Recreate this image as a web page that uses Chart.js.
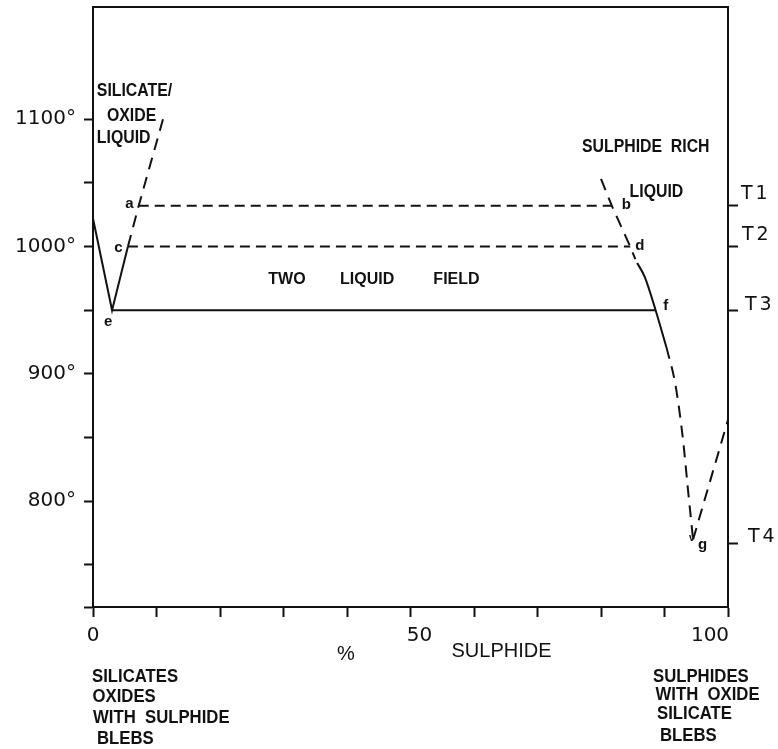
<!DOCTYPE html>
<html>
<head>
<meta charset="utf-8">
<script src="https://cdn.jsdelivr.net/npm/chart.js@4/dist/chart.umd.min.js"></script>
<style>
  html, body { margin: 0; padding: 0; background: #fff; }
  #wrap { width: 778px; height: 749px; position: relative; }
</style>
</head>
<body>
<div id="wrap"><canvas id="chart" width="778" height="749"></canvas></div>
<script>
// Phase diagram: temperature (°C) against % sulphide in a silicate/oxide - sulphide melt.

// Axis ranges and ticks
const X_MIN = 0, X_MAX = 100;
const Y_MIN = 717, Y_MAX = 1188;
const xTickValues = [0, 10, 20, 30, 40, 50, 60, 70, 80, 90, 100];
const xTickLabels = ['0', '50', '100'];
const yTickValues = [Y_MIN, 750, 800, 850, 900, 950, 1000, 1050, 1100];
const yLabelledTicks = [800, 900, 1000, 1100];
const tempLevels = [1032, 1000, 950, 767];          // T1 .. T4
const tempLevelNames = ['T1', 'T2', 'T3', 'T4'];

// Silicate/oxide side: solid boundary down to eutectic e, up to c
const silicateSolidX = [0, 3, 5.5];
const silicateSolidT = [1022, 950, 1000];
// Silicate liquidus (dashed) through c and a
const silicateLiquidusX = [5.5, 7.2, 11.2];
const silicateLiquidusT = [1000, 1032, 1103];
// Tie lines a-b and c-d (dashed)
const tieABX = [7.2, 81.7];
const tieABT = [1032, 1032];
const tieCDX = [5.5, 84.6];
const tieCDT = [1000, 1000];
// Eutectic line e-f (solid)
const eutecticX = [3, 88.6];
const eutecticT = [950, 950];
// Sulphide liquidus: dashed above d, solid through f, dashed down to g
const sulphideUpperX = [80, 81.7, 84.6, 85.4];
const sulphideUpperT = [1053, 1032, 1000, 990];
const sulphideSolidX = [85.7, 86.9, 88.6, 90.3];
const sulphideSolidT = [987, 976, 950, 921];
const sulphideLowerX = [90.3, 91.7, 92.9, 93.7, 94.5];
const sulphideLowerT = [921, 892, 849, 809, 770];
// Sulphide side branch rising from g to the 100 % axis
const sulphideRightX = [94.5, 100];
const sulphideRightT = [770, 864];

const INK = '#111';
const pts = (xs, ts) => xs.map((x, i) => ({ x, y: ts[i] }));

function curve(xs, ts, dash, smooth) {
  return {
    data: pts(xs, ts),
    borderColor: INK,
    borderWidth: 2,
    borderDash: dash || [],
    pointRadius: 0,
    fill: false,
    tension: smooth ? 0.4 : 0,
    cubicInterpolationMode: smooth ? 'monotone' : 'default',
    borderCapStyle: 'butt'
  };
}

// Lettering: condensed bold capitals are drawn with a horizontal squeeze
const CAPS = 'bold 18px "Liberation Sans"';
const SMALL = 'bold 15px "Liberation Sans"';

// Text placed in data coordinates (x in %, y in °C)
const fieldLabels = [
  { t: 'SILICATE/', x: 0.6, y: 1122, f: CAPS, a: 'left', sx: 0.88 },
  { t: 'OXIDE', x: 2.2, y: 1102.5, f: CAPS, a: 'left', sx: 0.88 },
  { t: 'LIQUID', x: 0.6, y: 1085, f: CAPS, a: 'left', sx: 0.88 },
  { t: 'SULPHIDE  RICH', x: 77.0, y: 1078, f: CAPS, a: 'left', sx: 0.88 },
  { t: 'LIQUID', x: 84.5, y: 1042.5, f: CAPS, a: 'left', sx: 0.88 },
  { t: 'TWO', x: 27.6, y: 974, f: 'bold 16px "Liberation Sans"', a: 'left', sx: 1 },
  { t: 'LIQUID', x: 38.9, y: 974, f: 'bold 16px "Liberation Sans"', a: 'left', sx: 1 },
  { t: 'FIELD', x: 53.6, y: 974, f: 'bold 16px "Liberation Sans"', a: 'left', sx: 1 },
  { t: 'a', x: 5.75, y: 1033.5, f: SMALL, a: 'center', sx: 1 },
  { t: 'c', x: 4.0, y: 998.6, f: SMALL, a: 'center', sx: 1 },
  { t: 'e', x: 2.4, y: 940.6, f: SMALL, a: 'center', sx: 1 },
  { t: 'b', x: 84.0, y: 1032.9, f: SMALL, a: 'center', sx: 1 },
  { t: 'd', x: 86.1, y: 1000.7, f: SMALL, a: 'center', sx: 1 },
  { t: 'f', x: 90.2, y: 953.6, f: SMALL, a: 'center', sx: 1 },
  { t: 'g', x: 96.0, y: 765.9, f: SMALL, a: 'center', sx: 1 },
  { t: 'v', x: 94.3, y: 770.8, f: 'bold 10px "Liberation Sans"', a: 'center', sx: 1 }
];

// Captions below the plot (canvas pixels)
const captionFont = 'bold 19px "Liberation Sans"';
const captions = [
  { t: 'SILICATES', px: 92, py: 677 },
  { t: 'OXIDES', px: 92.5, py: 697 },
  { t: 'WITH  SULPHIDE', px: 93, py: 718 },
  { t: 'BLEBS', px: 97, py: 739 },
  { t: 'SULPHIDES', px: 653, py: 677 },
  { t: 'WITH  OXIDE', px: 655.5, py: 695 },
  { t: 'SILICATE', px: 657, py: 714 },
  { t: 'BLEBS', px: 660, py: 736 }
];

function squeezedText(ctx, text, x, y, sx) {
  ctx.save();
  ctx.translate(x, y);
  ctx.scale(sx, 1);
  ctx.fillText(text, 0, 0);
  ctx.restore();
}

const textLayer = {
  id: 'textLayer',
  afterDraw(chart) {
    const { ctx, chartArea: ca, scales } = chart;
    const xs = scales.x, ys = scales.y;
    ctx.save();
    ctx.fillStyle = INK;
    ctx.strokeStyle = INK;

    // top frame line
    ctx.lineWidth = 2;
    ctx.beginPath();
    ctx.moveTo(ca.left - 1, ca.top);
    ctx.lineTo(ca.right + 1, ca.top);
    ctx.stroke();

    ctx.textBaseline = 'middle';
    fieldLabels.forEach(l => {
      ctx.font = l.f;
      ctx.textAlign = l.a;
      squeezedText(ctx, l.t, xs.getPixelForValue(l.x), ys.getPixelForValue(l.y), l.sx);
    });

    // x tick labels 0, 50, 100
    ctx.font = '20px "DejaVu Sans"';
    ctx.textAlign = 'center';
    const xLabelShift = [0, 9, -18];
    xTickLabels.forEach((s, i) => {
      ctx.fillText(s, xs.getPixelForValue(Number(s)) + xLabelShift[i], ca.bottom + 29);
    });

    // axis title
    ctx.font = '20px "Liberation Sans"';
    ctx.textAlign = 'center';
    ctx.fillText('%', 346, ca.bottom + 47);
    ctx.textAlign = 'left';
    ctx.fillText('SULPHIDE', 451.5, ca.bottom + 44);

    ctx.font = captionFont;
    captions.forEach(c => squeezedText(ctx, c.t, c.px, c.py, 0.88));

    // right-hand temperature level names
    ctx.font = '19px "DejaVu Sans"';
    ctx.textAlign = 'left';
    ctx.letterSpacing = '3px';
    const tShift = [[13, -12], [14, -11], [17, -5], [20, -6]];
    tempLevels.forEach((v, i) => {
      ctx.fillText(tempLevelNames[i], ca.right + tShift[i][0], ys.getPixelForValue(v) + tShift[i][1]);
    });
    ctx.restore();
  }
};

function noPad(s) {
  s.paddingTop = 0;
  s.paddingBottom = 0;
  s.paddingLeft = 0;
  s.paddingRight = 0;
}

new Chart(document.getElementById('chart'), {
  type: 'line',
  data: {
    datasets: [
      curve(silicateSolidX, silicateSolidT),
      curve(silicateLiquidusX, silicateLiquidusT, [12, 8]),
      curve(tieABX, tieABT, [10, 6]),
      curve(tieCDX, tieCDT, [10, 6]),
      curve(eutecticX, eutecticT),
      curve(sulphideUpperX, sulphideUpperT, [12, 8]),
      curve(sulphideSolidX, sulphideSolidT, null, true),
      curve(sulphideLowerX, sulphideLowerT, [12, 8], true),
      curve(sulphideRightX, sulphideRightT, [12, 8])
    ]
  },
  options: {
    responsive: false,
    animation: false,
    devicePixelRatio: 1,
    layout: { padding: { top: 7, left: 0, right: 0, bottom: 0 } },
    plugins: { legend: { display: false }, tooltip: { enabled: false } },
    scales: {
      x: {
        type: 'linear', position: 'bottom', min: X_MIN, max: X_MAX,
        afterBuildTicks: s => { s.ticks = xTickValues.map(v => ({ value: v })); },
        ticks: { display: false },
        grid: { drawOnChartArea: false, drawTicks: true, tickLength: 10, tickWidth: 2, tickColor: INK },
        border: { display: true, width: 2, color: INK },
        afterFit: s => { s.height = 142; noPad(s); }
      },
      y: {
        type: 'linear', position: 'left', min: Y_MIN, max: Y_MAX,
        afterBuildTicks: s => { s.ticks = yTickValues.map(v => ({ value: v })); },
        ticks: {
          callback: v => yLabelledTicks.includes(v) ? v + '°' : '',
          font: { family: 'DejaVu Sans', size: 20 },
          color: INK,
          padding: 8
        },
        grid: { drawOnChartArea: false, drawTicks: true, tickLength: 9, tickWidth: 2, tickColor: INK },
        border: { display: true, width: 2, color: INK },
        afterFit: s => { s.width = 93; noPad(s); }
      },
      y2: {
        type: 'linear', position: 'right', min: Y_MIN, max: Y_MAX,
        afterBuildTicks: s => { s.ticks = tempLevels.map(v => ({ value: v })); },
        ticks: { display: false },
        grid: { drawOnChartArea: false, drawTicks: true, tickLength: 10, tickWidth: 2, tickColor: INK },
        border: { display: true, width: 2, color: INK },
        afterFit: s => { s.width = 50; noPad(s); }
      }
    }
  },
  plugins: [textLayer]
});
</script>
</body>
</html>
